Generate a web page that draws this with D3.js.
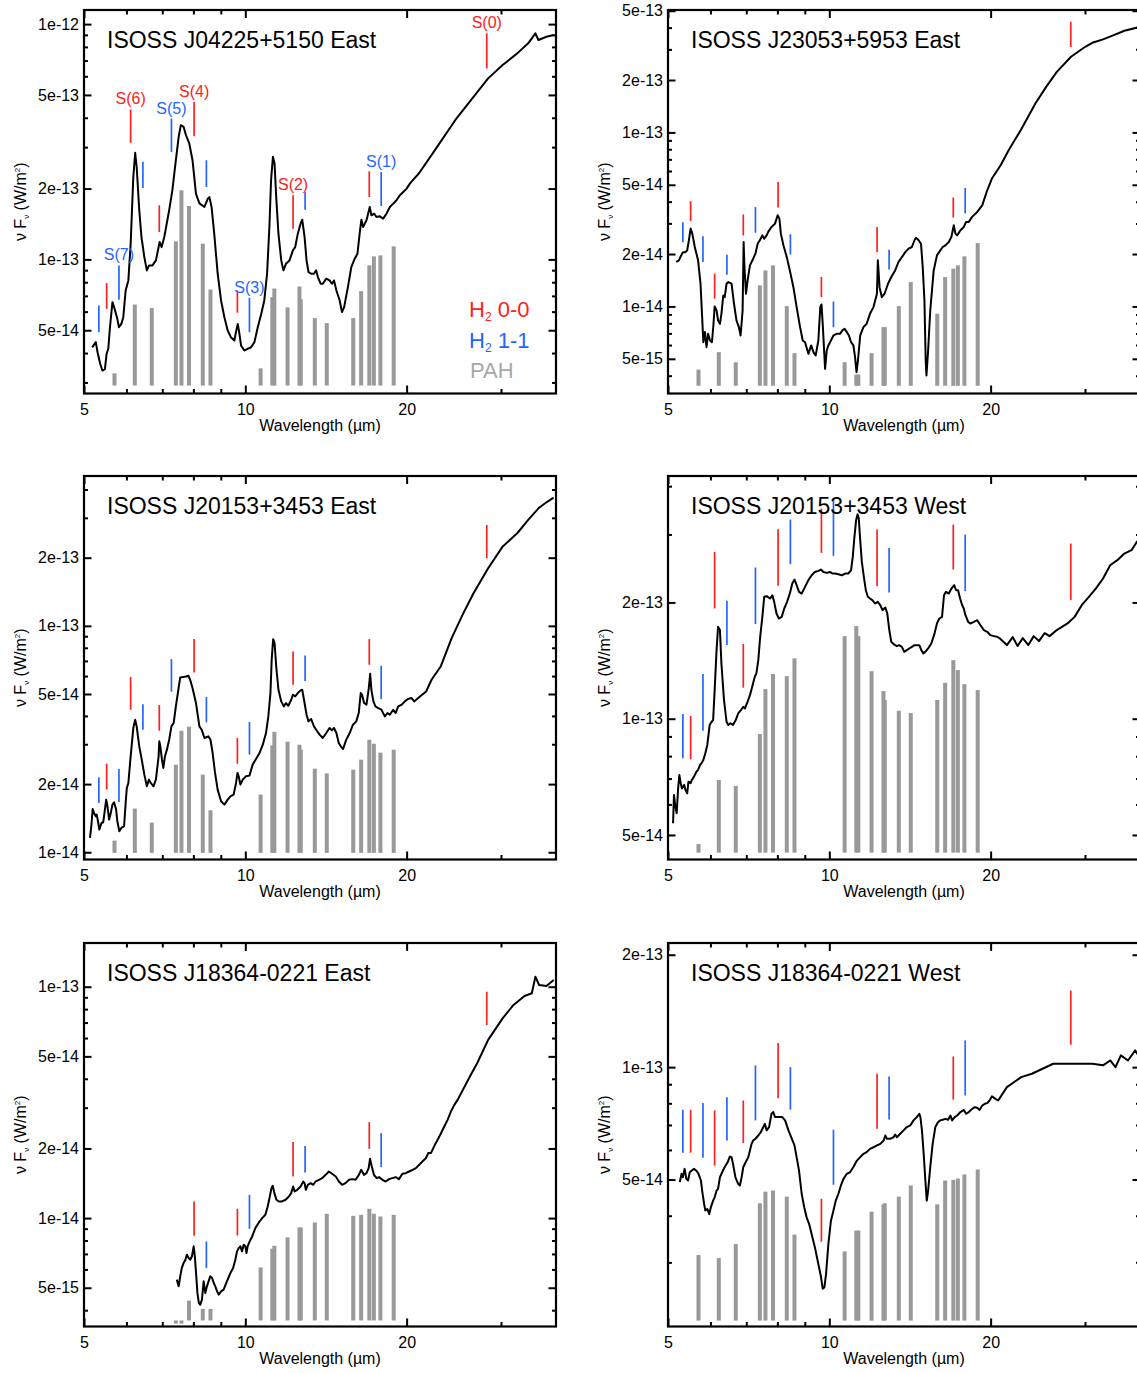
<!DOCTYPE html>
<html>
<head>
<meta charset="utf-8">
<script src="https://cdn.jsdelivr.net/npm/d3@7"></script>
<style>
body { margin: 0; background: #fff; }
svg text { font-family: "Liberation Sans", Arial, Helvetica, sans-serif; }
</style>
</head>
<body>
<svg id="fig" width="1137" height="1373"></svg>
<script>
// ---- shared axis values
const xDomain = [5, 38];
const xMajor = [5, 10, 20];
const xMinor = [6, 7, 8, 9, 30];

// ---- line and band positions (micron)
const pahWave = [5.70, 6.22, 6.69, 7.42, 7.60, 7.85, 8.33, 8.61, 10.68, 11.23, 11.33, 11.99, 12.62, 12.69, 13.48, 14.19, 15.90, 16.45, 17.04, 17.375, 17.87, 18.92];
const h00Wave = [5.511, 6.109, 6.910, 8.025, 9.665, 12.279, 17.035, 28.221];
const h11Wave = [5.33, 5.81, 6.44, 7.28, 8.46, 10.18, 12.93, 17.93];
const h00Tags = [null, 'S(6)', null, 'S(4)', null, 'S(2)', null, 'S(0)'];
const h11Tags = [null, 'S(7)', null, 'S(5)', null, 'S(3)', null, 'S(1)'];

// ---- y ranges and labelled ticks (W/m2)
const yDomainA = [2.692e-14, 1.148e-12];
const yDomainB = [3.16e-15, 5.05e-13];
const yDomainC = [9.29e-15, 4.59e-13];
const yDomainD = [4.32e-14, 4.25e-13];
const yDomainE = [3.40e-15, 1.545e-13];
const yDomainF = [2.02e-14, 2.15e-13];
const yTicksA = [5e-14, 1e-13, 2e-13, 5e-13, 1e-12];
const yTicksB = [5e-15, 1e-14, 2e-14, 5e-14, 1e-13, 2e-13, 5e-13];
const yTicksC = [1e-14, 2e-14, 5e-14, 1e-13, 2e-13];
const yTicksD = [5e-14, 1e-13, 2e-13];
const yTicksE = [5e-15, 1e-14, 2e-14, 5e-14, 1e-13];
const yTicksF = [5e-14, 1e-13, 2e-13];

// ---- spectra [wavelength, nu F_nu]
const specA = [[5.18,4.23e-14],[5.26,4.45e-14],[5.30,4.03e-14],[5.36,3.60e-14],[5.41,3.37e-14],[5.47,3.42e-14],[5.51,3.97e-14],[5.55,4.17e-14],[5.59,5.15e-14],[5.65,6.58e-14],[5.69,6.27e-14],[5.77,5.59e-14],[5.81,5.15e-14],[5.87,5.32e-14],[5.92,5.68e-14],[5.98,7.38e-14],[6.05,8.14e-14],[6.11,1.166e-13],[6.18,2.24e-13],[6.23,2.84e-13],[6.27,2.47e-13],[6.34,1.62e-13],[6.40,1.245e-13],[6.48,1.023e-13],[6.55,8.98e-14],[6.61,9.43e-14],[6.71,9.43e-14],[6.81,9.90e-14],[6.88,1.11e-13],[6.92,1.185e-13],[6.98,1.128e-13],[7.06,1.245e-13],[7.21,1.62e-13],[7.31,1.97e-13],[7.42,2.64e-13],[7.51,3.32e-13],[7.58,3.72e-13],[7.67,3.66e-13],[7.75,3.37e-13],[7.86,3.11e-13],[7.97,2.64e-13],[8.09,1.90e-13],[8.21,1.73e-13],[8.39,1.67e-13],[8.51,1.81e-13],[8.57,1.84e-13],[8.65,1.67e-13],[8.75,1.286e-13],[8.88,8.69e-14],[9.01,6.69e-14],[9.14,5.68e-14],[9.27,4.99e-14],[9.40,4.67e-14],[9.54,4.52e-14],[9.62,4.99e-14],[9.68,5.32e-14],[9.75,4.83e-14],[9.82,4.30e-14],[9.96,4.10e-14],[10.10,4.17e-14],[10.25,4.23e-14],[10.40,4.45e-14],[10.55,5.15e-14],[10.71,5.87e-14],[10.85,6.69e-14],[10.98,8.69e-14],[11.09,1.373e-13],[11.17,2.17e-13],[11.26,2.73e-13],[11.34,2.55e-13],[11.42,1.84e-13],[11.53,1.286e-13],[11.67,9.90e-14],[11.78,8.98e-14],[11.91,9.58e-14],[12.09,9.90e-14],[12.27,1.092e-13],[12.39,1.128e-13],[12.53,1.286e-13],[12.68,1.418e-13],[12.77,1.475e-13],[12.90,1.245e-13],[13.01,9.90e-14],[13.12,8.83e-14],[13.27,8.69e-14],[13.43,8.69e-14],[13.56,8.98e-14],[13.66,8.41e-14],[13.82,7.88e-14],[13.95,7.88e-14],[14.16,8.28e-14],[14.36,8.14e-14],[14.51,7.88e-14],[14.64,8.14e-14],[14.79,7.38e-14],[15.00,6.69e-14],[15.15,5.97e-14],[15.29,6.27e-14],[15.54,7.62e-14],[15.77,9.28e-14],[16.00,1.0065e-13],[16.19,1.057e-13],[16.37,1.329e-13],[16.47,1.475e-13],[16.59,1.373e-13],[16.83,1.466e-13],[16.95,1.564e-13],[17.07,1.670e-13],[17.19,1.539e-13],[17.39,1.564e-13],[17.57,1.514e-13],[17.82,1.524e-13],[18.08,1.49e-13],[18.34,1.564e-13],[18.61,1.670e-13],[18.88,1.726e-13],[19.15,1.783e-13],[19.43,1.873e-13],[19.71,1.935e-13],[20.00,1.999e-13],[20.28,2.099e-13],[20.66,2.205e-13],[21.08,2.317e-13],[22.80,3.007e-13],[24.64,3.905e-13],[26.66,4.909e-13],[28.39,5.879e-13],[30.21,6.697e-13],[32.17,7.51e-13],[33.72,8.284e-13],[34.78,9.14e-13],[35.24,8.56e-13],[36.47,8.84e-13],[37.62,8.99e-13]];

const specB = [[5.18,1.80e-14],[5.24,1.84e-14],[5.28,1.94e-14],[5.33,2.05e-14],[5.39,2.05e-14],[5.43,2.10e-14],[5.47,2.40e-14],[5.51,2.80e-14],[5.55,2.62e-14],[5.61,2.195e-14],[5.69,1.84e-14],[5.75,1.35e-14],[5.79,8.68e-15],[5.82,6.23e-15],[5.86,7.12e-15],[5.90,5.83e-15],[5.94,6.96e-15],[5.99,6.37e-15],[6.04,6.23e-15],[6.08,7.95e-15],[6.11,1.00e-14],[6.16,9.48e-15],[6.20,8.31e-15],[6.25,7.95e-15],[6.29,9.07e-15],[6.34,1.157e-14],[6.38,1.13e-14],[6.43,1.35e-14],[6.48,1.38e-14],[6.57,1.35e-14],[6.64,1.036e-14],[6.71,8.31e-15],[6.78,7.61e-15],[6.83,6.81e-15],[6.89,9.48e-15],[6.92,2.345e-14],[6.94,1.76e-14],[6.99,1.183e-14],[7.04,1.41e-14],[7.11,1.72e-14],[7.21,1.88e-14],[7.28,2.01e-14],[7.35,2.29e-14],[7.42,2.40e-14],[7.50,2.56e-14],[7.56,2.45e-14],[7.64,2.56e-14],[7.69,2.68e-14],[7.80,2.86e-14],[7.92,2.99e-14],[8.01,3.34e-14],[8.07,3.195e-14],[8.12,2.62e-14],[8.21,2.244e-14],[8.33,1.92e-14],[8.44,1.61e-14],[8.57,1.29e-14],[8.69,9.91e-15],[8.82,7.61e-15],[8.92,6.37e-15],[9.01,6.23e-15],[9.14,5.34e-15],[9.25,5.97e-15],[9.34,5.46e-15],[9.43,5.22e-15],[9.54,6.37e-15],[9.62,9.91e-15],[9.67,1.027e-14],[9.72,7.95e-15],[9.82,4.38e-15],[9.89,5.58e-15],[9.96,5.97e-15],[10.07,6.37e-15],[10.18,6.81e-15],[10.32,6.96e-15],[10.47,6.96e-15],[10.58,7.28e-15],[10.68,7.44e-15],[10.78,7.12e-15],[10.88,6.81e-15],[10.98,6.23e-15],[11.09,5.97e-15],[11.17,5.11e-15],[11.24,4.19e-15],[11.31,4.89e-15],[11.42,6.81e-15],[11.58,7.61e-15],[11.74,7.95e-15],[11.91,9.07e-15],[12.09,9.91e-15],[12.27,1.183e-14],[12.32,1.84e-14],[12.41,1.29e-14],[12.53,1.13e-14],[12.68,1.183e-14],[12.87,1.35e-14],[13.05,1.475e-14],[13.27,1.61e-14],[13.46,1.80e-14],[13.66,1.92e-14],[13.86,2.05e-14],[14.06,2.15e-14],[14.26,2.195e-14],[14.42,2.40e-14],[14.51,2.48e-14],[14.68,2.40e-14],[14.83,2.29e-14],[14.94,1.68e-14],[15.05,1.08e-14],[15.13,4.89e-15],[15.18,4.01e-15],[15.29,5.58e-15],[15.43,9.48e-15],[15.66,1.61e-14],[15.88,1.965e-14],[16.11,2.10e-14],[16.28,2.195e-14],[16.47,2.244e-14],[16.71,2.345e-14],[16.90,2.51e-14],[17.07,2.925e-14],[17.19,2.62e-14],[17.32,2.56e-14],[17.57,2.74e-14],[17.82,2.86e-14],[18.00,3.06e-14],[18.21,3.06e-14],[18.47,3.27e-14],[18.88,3.49e-14],[19.29,3.81e-14],[19.71,4.65e-14],[20.11,5.43e-14],[20.88,6.48e-14],[21.61,7.90e-14],[22.76,1.030e-13],[24.24,1.467e-13],[25.39,1.827e-13],[26.58,2.229e-13],[28.25,2.719e-13],[30.03,3.104e-13],[30.96,3.273e-13],[32.42,3.423e-13],[33.95,3.624e-13],[35.53,3.837e-13],[37.67,4.014e-13]];

const specC = [[5.13,1.157e-14],[5.16,1.303e-14],[5.19,1.553e-14],[5.22,1.492e-14],[5.26,1.442e-14],[5.28,1.467e-14],[5.31,1.371e-14],[5.34,1.259e-14],[5.39,1.347e-14],[5.43,1.357e-14],[5.46,1.492e-14],[5.50,1.708e-14],[5.53,1.596e-14],[5.57,1.394e-14],[5.61,1.492e-14],[5.65,1.623e-14],[5.69,1.663e-14],[5.74,1.543e-14],[5.77,1.371e-14],[5.82,1.238e-14],[5.87,1.281e-14],[5.94,1.303e-14],[5.98,1.651e-14],[6.01,1.923e-14],[6.05,2.023e-14],[6.11,2.652e-14],[6.18,3.537e-14],[6.23,3.849e-14],[6.27,3.597e-14],[6.34,2.937e-14],[6.40,2.609e-14],[6.48,2.202e-14],[6.55,1.956e-14],[6.61,2.093e-14],[6.66,2.023e-14],[6.74,1.956e-14],[6.81,2.093e-14],[6.89,2.652e-14],[6.91,3.089e-14],[6.94,2.937e-14],[6.99,2.565e-14],[7.03,2.357e-14],[7.08,2.652e-14],[7.14,2.839e-14],[7.21,3.142e-14],[7.28,3.597e-14],[7.35,3.721e-14],[7.42,4.409e-14],[7.50,5.222e-14],[7.56,5.917e-14],[7.64,5.937e-14],[7.75,5.978e-14],[7.83,6.019e-14],[7.89,5.780e-14],[7.97,5.310e-14],[8.09,4.561e-14],[8.21,3.597e-14],[8.29,3.478e-14],[8.39,3.196e-14],[8.53,3.251e-14],[8.61,3.142e-14],[8.69,2.744e-14],[8.78,2.240e-14],[8.88,1.891e-14],[9.01,1.680e-14],[9.14,1.623e-14],[9.27,1.708e-14],[9.38,1.767e-14],[9.51,1.797e-14],[9.61,2.023e-14],[9.67,2.240e-14],[9.72,2.165e-14],[9.79,1.989e-14],[9.89,2.093e-14],[10.03,2.165e-14],[10.18,2.180e-14],[10.32,2.438e-14],[10.47,2.582e-14],[10.63,2.744e-14],[10.78,2.987e-14],[10.93,3.362e-14],[11.04,3.982e-14],[11.14,5.047e-14],[11.20,7.079e-14],[11.27,8.735e-14],[11.34,8.387e-14],[11.42,6.614e-14],[11.53,5.222e-14],[11.67,4.638e-14],[11.80,4.409e-14],[11.91,4.561e-14],[12.03,4.437e-14],[12.18,4.717e-14],[12.27,4.963e-14],[12.39,4.879e-14],[12.53,5.047e-14],[12.68,5.187e-14],[12.77,5.222e-14],[12.90,4.561e-14],[13.01,4.050e-14],[13.12,3.785e-14],[13.27,3.877e-14],[13.43,3.597e-14],[13.56,3.478e-14],[13.76,3.306e-14],[13.95,3.196e-14],[14.16,3.362e-14],[14.36,3.537e-14],[14.51,3.455e-14],[14.64,3.537e-14],[14.79,3.362e-14],[14.94,3.037e-14],[15.07,2.937e-14],[15.22,2.858e-14],[15.43,3.142e-14],[15.66,3.362e-14],[15.88,3.660e-14],[16.11,3.785e-14],[16.28,4.120e-14],[16.42,5.047e-14],[16.51,4.963e-14],[16.66,4.561e-14],[16.83,4.483e-14],[17.00,5.310e-14],[17.10,6.145e-14],[17.19,5.222e-14],[17.34,4.638e-14],[17.49,4.409e-14],[17.70,4.335e-14],[17.95,4.261e-14],[18.21,3.982e-14],[18.42,4.120e-14],[18.61,4.050e-14],[18.88,4.261e-14],[19.07,4.120e-14],[19.29,4.409e-14],[19.57,4.483e-14],[19.85,4.638e-14],[20.11,4.750e-14],[20.43,4.797e-14],[20.66,4.638e-14],[21.15,4.86e-14],[21.75,5.13e-14],[22.26,5.78e-14],[23.15,6.61e-14],[24.27,8.83e-14],[25.43,1.118e-13],[26.66,1.394e-13],[28.39,1.797e-13],[30.21,2.238e-13],[32.17,2.564e-13],[33.72,2.936e-13],[35.34,3.325e-13],[36.47,3.513e-13],[37.62,3.681e-13]];

const specD = [[5.11,5.36e-14],[5.13,6.35e-14],[5.16,5.92e-14],[5.19,5.69e-14],[5.22,6.54e-14],[5.25,7.15e-14],[5.28,6.81e-14],[5.31,6.60e-14],[5.36,6.74e-14],[5.39,6.54e-14],[5.43,6.41e-14],[5.46,6.87e-14],[5.51,6.81e-14],[5.54,6.94e-14],[5.59,7.08e-14],[5.65,7.29e-14],[5.69,7.37e-14],[5.74,7.59e-14],[5.77,7.66e-14],[5.82,7.82e-14],[5.87,8.14e-14],[5.92,8.55e-14],[5.98,9.63e-14],[6.03,9.82e-14],[6.07,9.92e-14],[6.11,1.186e-13],[6.16,1.505e-13],[6.20,1.730e-13],[6.25,1.696e-13],[6.29,1.390e-13],[6.36,1.118e-13],[6.43,9.82e-14],[6.48,9.63e-14],[6.54,9.73e-14],[6.61,9.63e-14],[6.69,9.92e-14],[6.76,1.032e-13],[6.84,1.053e-13],[6.91,1.074e-13],[6.96,1.063e-13],[7.04,1.107e-13],[7.11,1.151e-13],[7.18,1.210e-13],[7.26,1.284e-13],[7.31,1.310e-13],[7.37,1.418e-13],[7.43,1.630e-13],[7.50,1.835e-13],[7.56,2.068e-13],[7.64,2.076e-13],[7.75,2.047e-13],[7.83,2.088e-13],[7.89,2.007e-13],[7.97,1.872e-13],[8.05,1.817e-13],[8.15,1.835e-13],[8.24,1.929e-13],[8.34,2.007e-13],[8.44,2.109e-13],[8.53,2.239e-13],[8.61,2.293e-13],[8.69,2.217e-13],[8.78,2.130e-13],[8.88,2.109e-13],[9.01,2.195e-13],[9.14,2.284e-13],[9.27,2.352e-13],[9.40,2.399e-13],[9.54,2.414e-13],[9.65,2.433e-13],[9.75,2.399e-13],[9.89,2.385e-13],[10.03,2.399e-13],[10.13,2.376e-13],[10.25,2.376e-13],[10.40,2.366e-13],[10.55,2.352e-13],[10.71,2.376e-13],[10.85,2.376e-13],[10.98,2.424e-13],[11.06,2.624e-13],[11.14,2.956e-13],[11.22,3.264e-13],[11.29,3.383e-13],[11.35,3.297e-13],[11.42,2.897e-13],[11.50,2.547e-13],[11.60,2.329e-13],[11.70,2.151e-13],[11.80,2.068e-13],[11.91,2.047e-13],[12.03,2.027e-13],[12.18,1.987e-13],[12.31,2.007e-13],[12.45,1.967e-13],[12.57,1.910e-13],[12.72,1.941e-13],[12.83,1.872e-13],[12.94,1.696e-13],[13.05,1.582e-13],[13.18,1.560e-13],[13.37,1.541e-13],[13.50,1.550e-13],[13.66,1.535e-13],[13.80,1.490e-13],[13.95,1.505e-13],[14.10,1.520e-13],[14.26,1.535e-13],[14.42,1.550e-13],[14.57,1.550e-13],[14.72,1.550e-13],[14.85,1.505e-13],[14.98,1.476e-13],[15.11,1.490e-13],[15.29,1.520e-13],[15.50,1.566e-13],[15.72,1.663e-13],[15.88,1.764e-13],[16.04,1.817e-13],[16.23,1.835e-13],[16.37,2.088e-13],[16.51,2.130e-13],[16.71,2.109e-13],[16.90,2.173e-13],[17.10,2.217e-13],[17.24,2.151e-13],[17.39,2.151e-13],[17.54,2.047e-13],[17.70,1.967e-13],[17.82,1.929e-13],[17.95,1.854e-13],[18.16,1.781e-13],[18.34,1.764e-13],[18.61,1.781e-13],[18.88,1.799e-13],[19.15,1.746e-13],[19.43,1.696e-13],[19.71,1.679e-13],[19.97,1.646e-13],[20.28,1.636e-13],[20.57,1.630e-13],[20.81,1.614e-13],[21.45,1.551e-13],[21.99,1.627e-13],[22.46,1.542e-13],[22.96,1.617e-13],[23.52,1.551e-13],[24.07,1.636e-13],[24.62,1.588e-13],[25.23,1.665e-13],[25.77,1.636e-13],[26.58,1.696e-13],[27.83,1.765e-13],[28.69,1.835e-13],[29.58,1.968e-13],[30.51,2.068e-13],[31.45,2.174e-13],[32.42,2.307e-13],[33.43,2.497e-13],[34.47,2.573e-13],[35.53,2.677e-13],[36.64,2.731e-13],[37.49,2.869e-13],[38.0,2.934e-13]];

const specE = [[7.45,5.42e-15],[7.51,5.07e-15],[7.56,5.60e-15],[7.61,6.08e-15],[7.67,6.39e-15],[7.73,6.61e-15],[7.78,6.95e-15],[7.84,6.72e-15],[7.89,6.61e-15],[7.95,6.83e-15],[8.01,7.55e-15],[8.05,6.83e-15],[8.10,5.60e-15],[8.14,4.75e-15],[8.19,4.30e-15],[8.24,4.22e-15],[8.30,4.44e-15],[8.36,5.33e-15],[8.42,4.75e-15],[8.48,5.07e-15],[8.54,5.33e-15],[8.60,5.60e-15],[8.67,5.51e-15],[8.73,5.24e-15],[8.79,5.07e-15],[8.86,4.82e-15],[8.92,4.67e-15],[9.01,4.82e-15],[9.11,4.91e-15],[9.24,5.33e-15],[9.38,5.79e-15],[9.49,6.08e-15],[9.58,6.61e-15],[9.65,7.18e-15],[9.72,7.42e-15],[9.79,7.55e-15],[9.86,7.18e-15],[9.93,7.67e-15],[10.00,7.55e-15],[10.05,7.06e-15],[10.10,7.55e-15],[10.19,7.93e-15],[10.30,8.33e-15],[10.44,9.05e-15],[10.60,9.58e-15],[10.75,1.00e-14],[10.90,1.034e-14],[11.01,1.123e-14],[11.11,1.240e-14],[11.19,1.347e-14],[11.25,1.379e-14],[11.33,1.282e-14],[11.43,1.200e-14],[11.55,1.180e-14],[11.71,1.180e-14],[11.89,1.200e-14],[12.06,1.240e-14],[12.18,1.282e-14],[12.28,1.370e-14],[12.36,1.304e-14],[12.50,1.325e-14],[12.68,1.370e-14],[12.83,1.439e-14],[12.90,1.416e-14],[12.97,1.325e-14],[13.08,1.393e-14],[13.24,1.416e-14],[13.39,1.393e-14],[13.52,1.439e-14],[13.72,1.464e-14],[13.91,1.488e-14],[14.12,1.538e-14],[14.32,1.590e-14],[14.52,1.554e-14],[14.75,1.513e-14],[14.95,1.439e-14],[15.16,1.393e-14],[15.38,1.416e-14],[15.62,1.464e-14],[15.84,1.474e-14],[16.06,1.464e-14],[16.29,1.538e-14],[16.45,1.617e-14],[16.65,1.538e-14],[16.83,1.564e-14],[16.99,1.644e-14],[17.09,1.804e-14],[17.22,1.672e-14],[17.38,1.538e-14],[17.59,1.488e-14],[17.77,1.503e-14],[18.02,1.464e-14],[18.28,1.439e-14],[18.55,1.474e-14],[18.81,1.488e-14],[19.09,1.503e-14],[19.35,1.474e-14],[19.64,1.554e-14],[19.92,1.564e-14],[20.21,1.590e-14],[20.52,1.617e-14],[20.81,1.644e-14],[21.11,1.699e-14],[21.40,1.757e-14],[21.72,1.815e-14],[21.95,1.909e-14],[22.20,1.909e-14],[22.35,1.972e-14],[22.58,2.073e-14],[22.85,2.179e-14],[23.18,2.328e-14],[23.51,2.488e-14],[23.85,2.659e-14],[24.19,2.888e-14],[24.55,3.086e-14],[24.90,3.243e-14],[26.25,4.09e-14],[27.08,4.67e-14],[28.39,5.89e-14],[30.21,7.30e-14],[31.66,8.34e-14],[33.19,9.12e-14],[34.25,9.37e-14],[34.78,1.105e-13],[35.34,1.017e-13],[36.47,1.007e-13],[37.62,1.069e-13]];

const specF = [[5.26,4.92e-14],[5.30,5.18e-14],[5.33,5.07e-14],[5.37,5.34e-14],[5.41,5.02e-14],[5.45,4.97e-14],[5.49,5.23e-14],[5.53,5.28e-14],[5.59,5.34e-14],[5.65,5.28e-14],[5.70,5.18e-14],[5.76,4.97e-14],[5.79,4.67e-14],[5.84,4.30e-14],[5.87,4.13e-14],[5.92,4.17e-14],[5.97,4.04e-14],[6.01,4.21e-14],[6.07,4.39e-14],[6.11,4.48e-14],[6.16,4.67e-14],[6.20,4.72e-14],[6.25,5.07e-14],[6.31,5.23e-14],[6.38,5.40e-14],[6.46,5.56e-14],[6.52,5.76e-14],[6.57,5.74e-14],[6.61,5.51e-14],[6.68,5.07e-14],[6.76,4.87e-14],[6.81,4.82e-14],[6.86,5.07e-14],[6.91,5.40e-14],[6.98,5.56e-14],[7.06,5.74e-14],[7.11,5.98e-14],[7.16,6.23e-14],[7.21,6.36e-14],[7.28,6.43e-14],[7.37,6.56e-14],[7.45,6.70e-14],[7.53,6.91e-14],[7.58,7.05e-14],[7.64,6.77e-14],[7.72,6.91e-14],[7.80,7.50e-14],[7.86,7.58e-14],[7.92,7.35e-14],[8.01,7.35e-14],[8.09,7.35e-14],[8.17,7.35e-14],[8.27,7.20e-14],[8.39,6.77e-14],[8.51,6.43e-14],[8.61,6.17e-14],[8.69,5.74e-14],[8.78,5.28e-14],[8.88,4.58e-14],[8.98,4.21e-14],[9.07,3.96e-14],[9.17,3.80e-14],[9.27,3.57e-14],[9.40,3.29e-14],[9.54,2.97e-14],[9.65,2.74e-14],[9.72,2.55e-14],[9.79,2.57e-14],[9.86,2.79e-14],[9.96,3.36e-14],[10.07,3.88e-14],[10.18,4.13e-14],[10.28,4.39e-14],[10.40,4.58e-14],[10.51,4.82e-14],[10.63,5.02e-14],[10.78,5.18e-14],[10.93,5.23e-14],[11.09,5.40e-14],[11.26,5.62e-14],[11.42,5.74e-14],[11.58,5.86e-14],[11.74,5.92e-14],[11.91,6.04e-14],[12.09,6.10e-14],[12.27,6.17e-14],[12.45,6.23e-14],[12.63,6.36e-14],[12.72,6.56e-14],[12.81,6.43e-14],[12.99,6.43e-14],[13.18,6.49e-14],[13.27,6.60e-14],[13.37,6.49e-14],[13.56,6.63e-14],[13.76,6.77e-14],[13.95,6.91e-14],[14.16,6.98e-14],[14.36,7.20e-14],[14.57,7.35e-14],[14.72,7.50e-14],[14.79,7.35e-14],[14.89,6.77e-14],[15.00,5.86e-14],[15.11,4.97e-14],[15.20,4.39e-14],[15.29,4.67e-14],[15.43,5.40e-14],[15.59,6.23e-14],[15.77,6.91e-14],[15.95,7.12e-14],[16.11,7.20e-14],[16.28,7.23e-14],[16.47,7.27e-14],[16.66,7.23e-14],[16.83,7.42e-14],[16.95,7.20e-14],[17.14,7.35e-14],[17.32,7.42e-14],[17.57,7.58e-14],[17.82,7.68e-14],[18.00,7.50e-14],[18.21,7.58e-14],[18.47,7.73e-14],[18.69,7.81e-14],[18.88,7.78e-14],[19.07,7.68e-14],[19.29,7.89e-14],[19.51,7.98e-14],[19.71,8.01e-14],[19.91,8.14e-14],[20.11,8.35e-14],[20.43,8.22e-14],[20.66,8.14e-14],[21.45,8.84e-14],[22.81,9.40e-14],[23.88,9.60e-14],[25.00,9.90e-14],[26.18,1.021e-13],[27.40,1.021e-13],[29.12,1.021e-13],[30.96,1.021e-13],[32.42,1.011e-13],[33.43,1.042e-13],[34.20,1.000e-13],[35.00,1.075e-13],[36.09,1.042e-13],[37.22,1.109e-13],[38.0,1.055e-13]];

// ---- PAH band strengths (one per pahWave entry) and bar base level
const pahA = [3.28e-14, 6.43e-14, 6.21e-14, 1.193e-13, 1.967e-13, 1.686e-13, 1.166e-13, 7.45e-14, 3.445e-14, 6.91e-14, 7.52e-14, 6.25e-14, 7.67e-14, 6.76e-14, 5.63e-14, 5.36e-14, 5.63e-14, 7.33e-14, 9.43e-14, 1.030e-13, 1.040e-13, 1.136e-13];
const pahB = [4.34e-15, 5.46e-15, 4.78e-15, 1.321e-14, 1.611e-14, 1.722e-14, 1.004e-14, 5.39e-15, 4.78e-15, 4.06e-15, 4.06e-15, 5.39e-15, 7.60e-15, 7.60e-15, 1.004e-14, 1.380e-14, 9.08e-15, 1.474e-14, 1.648e-14, 1.722e-14, 1.94e-14, 2.31e-14];
const pahC = [1.126e-14, 1.559e-14, 1.352e-14, 2.437e-14, 3.44e-14, 3.585e-14, 2.202e-14, 1.532e-14, 1.797e-14, 2.965e-14, 3.405e-14, 3.077e-14, 2.985e-14, 2.838e-14, 2.34e-14, 2.231e-14, 2.316e-14, 2.564e-14, 3.14e-14, 3.015e-14, 2.753e-14, 2.838e-14];
const pahD = [4.74e-14, 6.94e-14, 6.70e-14, 9.13e-14, 1.193e-13, 1.305e-13, 1.289e-13, 1.433e-13, 1.636e-13, 1.737e-13, 1.636e-13, 1.328e-13, 1.179e-13, 1.118e-13, 1.049e-13, 1.034e-13, 1.118e-13, 1.239e-13, 1.418e-13, 1.336e-13, 1.229e-13, 1.186e-13];
const pahE = [null, null, null, 3.50e-15, 3.50e-15, 4.40e-15, 4.05e-15, 4.05e-15, 6.12e-15, 7.37e-15, 7.59e-15, 8.25e-15, 9.11e-15, 9.11e-15, 9.57e-15, 1.044e-14, 1.023e-14, 1.033e-14, 1.097e-14, 1.044e-14, 1.016e-14, 1.033e-14];
const pahF = [3.14e-14, 3.08e-14, 3.36e-14, 4.32e-14, 4.64e-14, 4.67e-14, 4.50e-14, 3.56e-14, 3.21e-14, 3.65e-14, 3.65e-14, 4.10e-14, 4.29e-14, 4.32e-14, 4.50e-14, 4.82e-14, 4.29e-14, 4.97e-14, 4.99e-14, 5.03e-14, 5.16e-14, 5.32e-14];
const pahBase = [2.91e-14, 3.50e-15, 9.94e-15, 4.50e-14, 3.61e-15, 2.095e-14];

// ---- H2 line tick extents [top, bottom]
const h00A = [[7.93e-14,6.17e-14],[4.34e-13,3.13e-13],[1.70e-13,1.307e-13],[4.67e-13,3.34e-13],[7.38e-14,5.93e-14],[1.873e-13,1.351e-13],[2.37e-13,1.842e-13],[9.14e-13,6.48e-13]];
const h11A = [[6.37e-14,4.90e-14],[9.43e-14,6.74e-14],[2.60e-13,2.01e-13],[3.97e-13,2.86e-13],[2.64e-13,2.03e-13],[6.87e-14,4.90e-14],[1.934e-13,1.627e-13],[2.35e-13,1.686e-13]];
const h00B = [[4.02e-14,3.10e-14],[1.54e-14,1.107e-14],[3.37e-14,2.56e-14],[5.19e-14,3.70e-14],[1.474e-14,1.131e-14],[2.86e-14,2.05e-14],[4.22e-14,3.24e-14],[4.32e-13,3.10e-13]];
const h11B = [[3.05e-14,2.34e-14],[2.53e-14,1.80e-14],[1.98e-14,1.52e-14],[3.73e-14,2.65e-14],[2.60e-14,1.99e-14],[1.069e-14,7.60e-15],[2.12e-14,1.63e-14],[4.79e-14,3.42e-14]];
const h00C = [[2.462e-14,1.891e-14],[5.94e-14,4.26e-14],[4.47e-14,3.44e-14],[8.74e-14,6.22e-14],[3.20e-14,2.462e-14],[7.70e-14,5.49e-14],[8.74e-14,6.73e-14],[2.79e-13,1.989e-13]];
const h11C = [[2.142e-14,1.652e-14],[2.333e-14,1.669e-14],[4.51e-14,3.48e-14],[7.13e-14,5.12e-14],[4.85e-14,3.75e-14],[3.76e-14,2.70e-14],[7.40e-14,5.70e-14],[6.66e-14,4.75e-14]];
const h00D = [[1.016e-13,7.85e-14],[2.703e-13,1.930e-13],[1.561e-13,1.203e-13],[3.094e-13,2.208e-13],[3.500e-13,2.687e-13],[3.088e-13,2.204e-13],[3.181e-13,2.434e-13],[2.841e-13,2.028e-13]];
const h11D = [[1.028e-13,7.90e-14],[1.305e-13,9.31e-14],[2.019e-13,1.551e-13],[2.463e-13,1.758e-13],[3.278e-13,2.512e-13],[3.693e-13,2.640e-13],[2.768e-13,2.122e-13],[2.998e-13,2.139e-13]];
const h00E = [null,null,null,[1.180e-14,8.38e-15],[1.097e-14,8.41e-15],[2.13e-14,1.512e-14],[2.60e-14,1.992e-14],[9.52e-14,6.83e-14]];
const h11E = [null,null,null,null,[7.92e-15,6.08e-15],[1.261e-14,8.99e-15],[2.05e-14,1.574e-14],[2.33e-14,1.66e-14]];
const h00F = [[7.69e-14,5.90e-14],[7.66e-14,5.45e-14],[8.14e-14,6.26e-14],[1.160e-13,8.26e-14],[4.44e-14,3.41e-14],[9.60e-14,6.84e-14],[1.068e-13,8.18e-14],[1.605e-13,1.148e-13]];
const h11F = [[7.69e-14,5.90e-14],[8.01e-14,5.72e-14],[8.31e-14,6.36e-14],[1.011e-13,7.20e-14],[1.000e-13,7.69e-14],[6.80e-14,4.84e-14],[9.44e-14,7.24e-14],[1.179e-13,8.40e-14]];

const titles = ['ISOSS J04225+5150 East', 'ISOSS J23053+5953 East', 'ISOSS J20153+3453 East',
                'ISOSS J20153+3453 West', 'ISOSS J18364-0221 East', 'ISOSS J18364-0221 West'];

// ---- layout / style
const W = 472, H = 383.5;
const colLeft = [84, 668];
const rowTop = [10, 476, 943];
const RED = '#ff2020', BLUE = '#2266ff', GRAY = '#999999';

const panels = [
  { col: 0, row: 0, spec: specA, pah: pahA, h00: h00A, h11: h11A, yDomain: yDomainA, yTicks: yTicksA, tagged: true },
  { col: 1, row: 0, spec: specB, pah: pahB, h00: h00B, h11: h11B, yDomain: yDomainB, yTicks: yTicksB },
  { col: 0, row: 1, spec: specC, pah: pahC, h00: h00C, h11: h11C, yDomain: yDomainC, yTicks: yTicksC },
  { col: 1, row: 1, spec: specD, pah: pahD, h00: h00D, h11: h11D, yDomain: yDomainD, yTicks: yTicksD },
  { col: 0, row: 2, spec: specE, pah: pahE, h00: h00E, h11: h11E, yDomain: yDomainE, yTicks: yTicksE },
  { col: 1, row: 2, spec: specF, pah: pahF, h00: h00F, h11: h11F, yDomain: yDomainF, yTicks: yTicksF }
];

const svg = d3.select('#fig');
panels.forEach((p, i) => drawPanel(p, i));

function minorLogTicks(domain, majors) {
	let out = [];
	let k0 = Math.floor(Math.log10(domain[0]));
	let k1 = Math.ceil(Math.log10(domain[1]));
	for (let k = k0; k <= k1; ++k) {
		for (let d = 1; d <= 9; ++d) {
			let v = d * Math.pow(10, k);
			if (v < domain[0] || v > domain[1]) continue;
			if (majors.some(m => Math.abs(v / m - 1) < 1e-6)) continue;
			out.push(v);
		}
	}
	return out;
}

function styleAxis(sel) {
	sel.select('.domain').remove();
	sel.selectAll('.tick line').attr('stroke', '#000').attr('stroke-width', 2);
	sel.attr('font-family', null).attr('font-size', 16);
	sel.selectAll('.tick text').attr('fill', '#000');
}

function drawPanel(p, i) {
	let left = colLeft[p.col], top = rowTop[p.row];
	let x = d3.scaleLog().domain(xDomain).range([left, left + W]);
	let y = d3.scaleLog().domain(p.yDomain).range([top + H, top]);
	let g = svg.append('g');

	g.append('clipPath').attr('id', 'clip' + i)
		.append('rect').attr('x', left).attr('y', top).attr('width', W).attr('height', H);
	let body = g.append('g').attr('clip-path', `url(#clip${i})`);

	// PAH bars
	let base = pahBase[i];
	let bars = pahWave.map((w, k) => ({ w: w, v: p.pah[k] })).filter(d => d.v != null);
	body.selectAll('rect.pah').data(bars).join('rect')
		.attr('class', 'pah')
		.attr('x', d => x(d.w) - 2)
		.attr('width', 4)
		.attr('y', d => Math.min(y(d.v), y(base)))
		.attr('height', d => Math.abs(y(d.v) - y(base)))
		.attr('fill', GRAY);

	// spectrum
	body.append('path').datum(p.spec)
		.attr('d', d3.line().x(d => x(d[0])).y(d => y(d[1])))
		.attr('fill', 'none')
		.attr('stroke', '#000')
		.attr('stroke-width', 2)
		.attr('stroke-linejoin', 'round');

	// title
	g.append('text')
		.attr('x', left + 23).attr('y', top + 38)
		.attr('font-size', 23)
		.text(titles[i]);

	// H2 line ticks
	let drawLines = (waves, ext, color) => {
		let d = waves.map((w, k) => ({ w: w, e: ext[k] })).filter(d => d.e != null);
		body.selectAll(null).data(d).join('line')
			.attr('x1', d => x(d.w)).attr('x2', d => x(d.w))
			.attr('y1', d => y(d.e[0])).attr('y2', d => y(d.e[1]))
			.attr('stroke', color).attr('stroke-width', 1.7);
	};
	drawLines(h00Wave, p.h00, RED);
	drawLines(h11Wave, p.h11, BLUE);

	if (p.tagged) {
		let tag = (waves, ext, names, color) => {
			waves.forEach((w, k) => {
				if (!names[k] || !ext[k]) return;
				g.append('text')
					.attr('x', x(w)).attr('y', y(ext[k][0]) - 5)
					.attr('text-anchor', 'middle')
					.attr('font-size', 16)
					.attr('fill', color)
					.text(names[k]);
			});
		};
		tag(h00Wave, p.h00, h00Tags, RED);
		tag(h11Wave, p.h11, h11Tags, BLUE);

		// legend
		let leg = [['0-0', RED], ['1-1', BLUE]];
		leg.forEach((l, k) => {
			let t = g.append('text')
				.attr('x', left + 385).attr('y', top + 307 + k * 30.5)
				.attr('font-size', 22).attr('fill', l[1]);
			t.append('tspan').text('H');
			t.append('tspan').attr('font-size', 12).attr('dy', 4).text('2');
			t.append('tspan').attr('dy', -4).text(' ' + l[0]);
		});
		g.append('text')
			.attr('x', left + 386).attr('y', top + 368)
			.attr('font-size', 22).attr('fill', '#a8a8a8')
			.text('PAH');
	}

	// axes
	let yMinor = minorLogTicks(p.yDomain, p.yTicks);
	let fmt = d3.format('.0e');

	g.append('g').attr('transform', `translate(0,${top + H})`)
		.call(d3.axisBottom(x).tickValues(xMajor).tickSizeInner(-8).tickSizeOuter(0)
			.tickPadding(10.5).tickFormat(d3.format('d')))
		.call(styleAxis);
	g.append('g').attr('transform', `translate(0,${top + H})`)
		.call(d3.axisBottom(x).tickValues(xMinor).tickSizeInner(-4.5).tickSizeOuter(0).tickFormat(''))
		.call(styleAxis);
	g.append('g').attr('transform', `translate(0,${top})`)
		.call(d3.axisTop(x).tickValues(xMajor).tickSizeInner(-8).tickSizeOuter(0).tickFormat(''))
		.call(styleAxis);
	g.append('g').attr('transform', `translate(0,${top})`)
		.call(d3.axisTop(x).tickValues(xMinor).tickSizeInner(-4.5).tickSizeOuter(0).tickFormat(''))
		.call(styleAxis);

	g.append('g').attr('transform', `translate(${left},0)`)
		.call(d3.axisLeft(y).tickValues(p.yTicks).tickSizeInner(-7.5).tickSizeOuter(0)
			.tickPadding(5).tickFormat(fmt))
		.call(styleAxis);
	g.append('g').attr('transform', `translate(${left},0)`)
		.call(d3.axisLeft(y).tickValues(yMinor).tickSizeInner(-4).tickSizeOuter(0).tickFormat(''))
		.call(styleAxis);
	g.append('g').attr('transform', `translate(${left + W},0)`)
		.call(d3.axisRight(y).tickValues(p.yTicks).tickSizeInner(-7.5).tickSizeOuter(0).tickFormat(''))
		.call(styleAxis);
	g.append('g').attr('transform', `translate(${left + W},0)`)
		.call(d3.axisRight(y).tickValues(yMinor).tickSizeInner(-4).tickSizeOuter(0).tickFormat(''))
		.call(styleAxis);

	// frame
	g.append('rect')
		.attr('x', left).attr('y', top).attr('width', W).attr('height', H)
		.attr('fill', 'none').attr('stroke', '#000').attr('stroke-width', 2.2);

	// axis titles
	g.append('text')
		.attr('x', left + W / 2).attr('y', top + H + 37)
		.attr('text-anchor', 'middle').attr('font-size', 16)
		.text('Wavelength (µm)');

	let yt = g.append('text')
		.attr('transform', `translate(${left - 58},${top + H / 2}) rotate(-90)`)
		.attr('text-anchor', 'middle').attr('font-size', 16);
	yt.append('tspan').text('ν F');
	yt.append('tspan').attr('font-size', 8).attr('dy', 3).text('ν');
	yt.append('tspan').attr('dy', -3).text(' (W/m');
	yt.append('tspan').attr('font-size', 8).attr('dy', -6).text('2');
	yt.append('tspan').attr('dy', 6).text(')');
}
</script>
</body>
</html>
